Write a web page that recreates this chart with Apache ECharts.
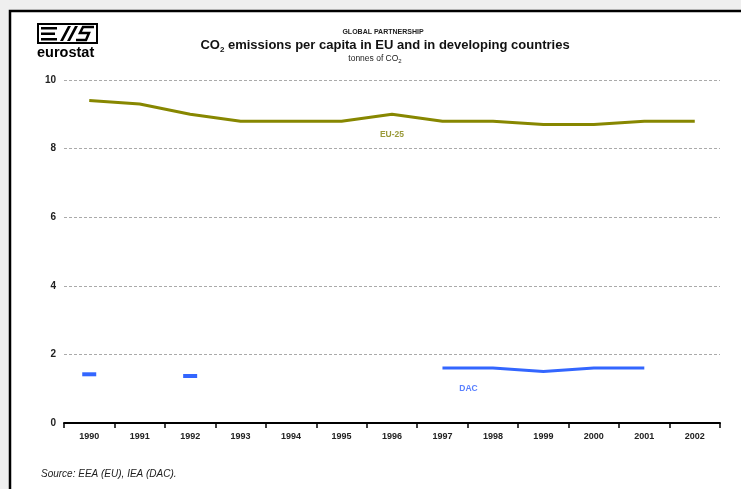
<!DOCTYPE html>
<html>
<head>
<meta charset="utf-8">
<script src="https://cdn.jsdelivr.net/npm/echarts@6/dist/echarts.min.js"></script>
<style>
  body { margin: 0; }
  #chart { width: 741px; height: 489px; }
</style>
</head>
<body>
<div id="chart"></div>
<script>
// data
let years = ['1990', '1991', '1992', '1993', '1994', '1995', '1996', '1997', '1998', '1999', '2000', '2001', '2002']
let eu25 = [9.4, 9.3, 9.0, 8.8, 8.8, 8.8, 9.0, 8.8, 8.8, 8.7, 8.7, 8.8, 8.8]
let dac = [1.42, null, 1.37, null, null, null, null, 1.6, 1.6, 1.5, 1.6, 1.6, null]
let yTicks = [0, 2, 4, 6, 8, 10]

let font = 'Arial, "Liberation Sans", sans-serif'
let olive = '#878700'
let blue = '#3366ff'

let chart = echarts.init(document.getElementById('chart'))

// single DAC values have no neighbours, so draw them as a small dash
let dacData = dac.map((v, i) => {
  let alone = v != null && dac[i - 1] == null && dac[i + 1] == null
  if (alone) {
    return {value: v, symbol: 'rect', symbolSize: [14, 4], itemStyle: {color: blue}}
  }
  return v
})

let option = {
  backgroundColor: '#efefef',
  animation: false,
  title: [
    {
      text: 'GLOBAL PARTNERSHIP',
      left: 378, top: 24, textAlign: 'center',
      textStyle: {fontFamily: font, fontSize: 7, fontWeight: 'bold', color: '#222'}
    },
    {
      text: '{a|CO}{s|2}{a| emissions per capita in EU and in developing countries}',
      left: 380, top: 32, textAlign: 'center',
      textStyle: {
        rich: {
          a: {fontFamily: font, fontSize: 13, fontWeight: 'bold', color: '#111', lineHeight: 15, verticalAlign: 'bottom'},
          s: {fontFamily: font, fontSize: 8, fontWeight: 'bold', color: '#111', lineHeight: 15, verticalAlign: 'bottom', padding: [0, 0, -2, 0]}
        }
      }
    },
    {
      text: '{a|tonnes of CO}{s|2}',
      left: 370, top: 47, textAlign: 'center',
      textStyle: {
        rich: {
          a: {fontFamily: font, fontSize: 8.5, fontWeight: 'normal', color: '#222', lineHeight: 11, verticalAlign: 'bottom'},
          s: {fontFamily: font, fontSize: 6, fontWeight: 'normal', color: '#222', lineHeight: 11, verticalAlign: 'bottom', padding: [0, 0, -1, 0]}
        }
      }
    }
  ],
  graphic: [
    {
      type: 'rect', z: -10, silent: true,
      shape: {x: 10, y: 11, width: 760, height: 500},
      style: {fill: '#fff', stroke: '#000', lineWidth: 2.5}
    },
    // eurostat logo
    {type: 'rect', shape: {x: 38, y: 24, width: 59, height: 19}, style: {fill: 'none', stroke: '#000', lineWidth: 2}},
    {type: 'rect', shape: {x: 41, y: 27, width: 16, height: 2.5}, style: {fill: '#000'}},
    {type: 'rect', shape: {x: 41, y: 32.5, width: 14, height: 2.5}, style: {fill: '#000'}},
    {type: 'rect', shape: {x: 41, y: 38, width: 16, height: 2.5}, style: {fill: '#000'}},
    {type: 'polygon', shape: {points: [[60, 41], [63, 41], [71, 26], [68, 26]]}, style: {fill: '#000'}},
    {type: 'polygon', shape: {points: [[67, 41], [70, 41], [78, 26], [75, 26]]}, style: {fill: '#000'}},
    {type: 'polyline', shape: {points: [[94, 27], [83, 27], [80, 33], [89, 33], [86, 40], [76, 40]]}, style: {fill: 'none', stroke: '#000', lineWidth: 2.5}},
    {
      type: 'text', left: 37, top: 45,
      style: {text: 'eurostat', fontFamily: font, fontSize: 14.5, fontWeight: 'bold', fill: '#000'}
    },
    {
      type: 'text', left: 41, top: 469,
      style: {text: 'Source: EEA (EU), IEA (DAC).', fontFamily: font, fontSize: 10, fontStyle: 'italic', fill: '#222'}
    }
  ],
  grid: {left: 64, right: 21, top: 80, bottom: 66},
  xAxis: {
    type: 'category',
    data: years,
    boundaryGap: true,
    axisLine: {lineStyle: {color: '#000', width: 2}},
    axisTick: {show: true, length: 5, lineStyle: {color: '#000', width: 1.5}},
    axisLabel: {fontFamily: font, fontSize: 9, fontWeight: 'bold', color: '#222', margin: 9, interval: 0},
    splitLine: {show: false}
  },
  yAxis: {
    type: 'value',
    min: yTicks[0],
    max: yTicks[yTicks.length - 1],
    interval: 2,
    axisLine: {show: false},
    axisTick: {show: false},
    axisLabel: {fontFamily: font, fontSize: 10, fontWeight: 'bold', color: '#222', margin: 8},
    splitLine: {lineStyle: {color: '#aaa', type: [3, 2], width: 1}}
  },
  series: [
    {
      name: 'EU-25',
      type: 'line',
      data: eu25,
      symbol: 'none',
      lineStyle: {color: olive, width: 3},
      itemStyle: {color: olive},
      markPoint: {
        symbol: 'circle',
        symbolSize: 0,
        label: {show: true, position: 'bottom', distance: 16, fontFamily: font, fontSize: 8.5, fontWeight: 'bold', color: '#9a9a3a'},
        data: [{coord: [6, eu25[6]], value: 'EU-25'}]
      }
    },
    {
      name: 'DAC',
      type: 'line',
      data: dacData,
      symbol: 'none',
      showSymbol: true,
      connectNulls: false,
      lineStyle: {color: blue, width: 3},
      itemStyle: {color: blue},
      markPoint: {
        symbol: 'circle',
        symbolSize: 0,
        label: {show: true, position: 'bottom', distance: 16, offset: [26, 0], fontFamily: font, fontSize: 8.5, fontWeight: 'bold', color: '#5a80ff'},
        data: [{coord: [7, dac[7]], value: 'DAC'}]
      }
    }
  ]
}
chart.setOption(option, true)
</script>
</body>
</html>
